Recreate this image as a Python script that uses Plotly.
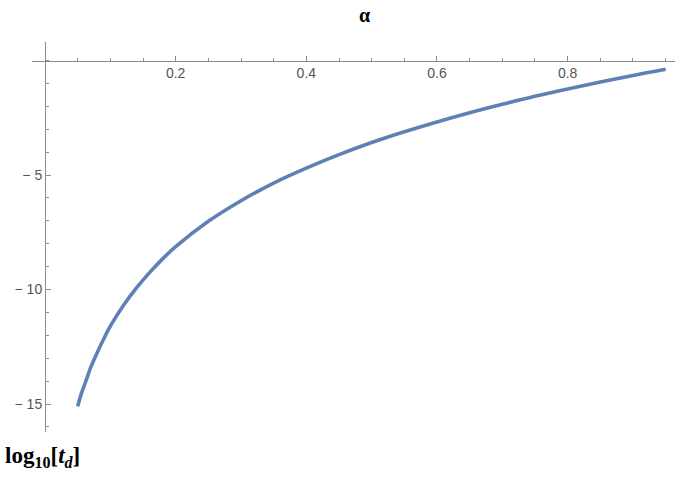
import plotly.graph_objects as go

# data
alpha = [0.05, 0.055, 0.06, 0.065, 0.07, 0.08, 0.09, 0.10, 0.12, 0.14, 0.16, 0.18, 0.20,
         0.25, 0.30, 0.35, 0.40, 0.45, 0.50, 0.55, 0.60, 0.65, 0.70, 0.75,
         0.80, 0.85, 0.90, 0.95]
log_td = [-15.1, -14.6, -14.2, -13.8, -13.4, -12.75, -12.15, -11.6, -10.7, -9.93, -9.26, -8.66, -8.13,
          -7.02, -6.12, -5.35, -4.7, -4.11, -3.58, -3.11, -2.68, -2.28, -1.91, -1.56,
          -1.24, -0.94, -0.65, -0.38]
x_major = [0.2, 0.4, 0.6, 0.8]
x_major_text = ["0.2", "0.4", "0.6", "0.8"]
y_major = [-5, -10, -15]
y_major_text = ["\u2212 5", "\u2212 10", "\u2212 15"]

x_range = [-0.0199, 0.9643]
y_range = [-16.22, 0.81]

fig = go.Figure()
fig.add_trace(go.Scatter(
    x=alpha, y=log_td, mode="lines",
    line=dict(color="#5E81B5", width=3.6, shape="spline", smoothing=1.0),
    showlegend=False, hoverinfo="skip",
))

axis_col = "#8c8c8c"
tick_font = dict(family="Liberation Sans, Arial, sans-serif", size=14, color="#555555")

xpos = (0 - y_range[0]) / (y_range[1] - y_range[0])
ypos = (0 - x_range[0]) / (x_range[1] - x_range[0])

fig.update_layout(
    width=681, height=483,
    margin=dict(l=32, r=6, t=42, b=51, autoexpand=False),
    paper_bgcolor="white", plot_bgcolor="white",
    xaxis=dict(
        range=x_range, anchor="free", position=xpos, side="bottom", automargin=False,
        showgrid=False, zeroline=False, showline=True, linecolor=axis_col, linewidth=1,
        tickmode="array", tickvals=x_major, ticktext=x_major_text,
        ticks="inside", ticklen=5, tickcolor=axis_col, tickwidth=1,
        tickfont=tick_font,
        minor=dict(tickmode="linear", tick0=0, dtick=0.05, ticks="inside",
                   ticklen=3, tickcolor=axis_col, tickwidth=1, showgrid=False),
    ),
    yaxis=dict(
        range=y_range, anchor="free", position=ypos, side="left", automargin=False,
        showgrid=False, zeroline=False, showline=True, linecolor=axis_col, linewidth=1,
        tickmode="array", tickvals=y_major, ticktext=y_major_text,
        ticks="inside", ticklen=5, tickcolor=axis_col, tickwidth=1,
        tickfont=tick_font,
        minor=dict(tickmode="linear", tick0=0, dtick=1, ticks="inside",
                   ticklen=3, tickcolor=axis_col, tickwidth=1, showgrid=False),
    ),
    annotations=[
        dict(text="<b>\u03b1</b>", xref="paper", yref="paper",
             x=(364 - 32) / 643, y=(432 - 15) / 390, xanchor="center", yanchor="middle",
             showarrow=False,
             font=dict(family="Liberation Serif, Times New Roman, serif", size=20, color="black")),
        dict(text="<b>log<sub>10</sub>[<i>t<sub>d</sub></i>]</b>", xref="paper", yref="paper",
             x=(3 - 32) / 643, y=(432 - 457) / 390, xanchor="left", yanchor="middle",
             showarrow=False,
             font=dict(family="Liberation Serif, Times New Roman, serif", size=23, color="black")),
    ],
)

fig.write_html("out.html", config={"displayModeBar": False},
               post_script="document.body.style.margin='0';document.body.style.overflow='hidden';")
